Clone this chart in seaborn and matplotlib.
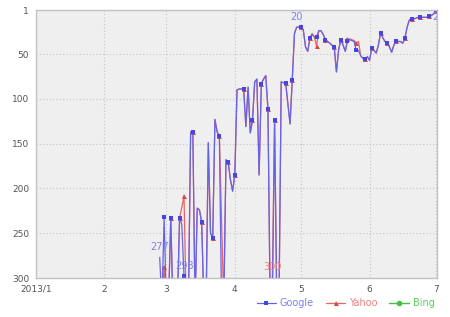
import numpy as np
import pandas as pd
import matplotlib
matplotlib.use("Agg")
import matplotlib.pyplot as plt
import seaborn as sns

# ---------------- data ----------------
OUT = 330  # not ranked (beyond 300) -> drawn off the bottom edge
DAYS = [56, 57, 58, 59, 60, 61, 62, 64, 65, 66, 67, 68, 69, 70, 71, 72, 73, 74, 75, 76,
        77, 78, 79, 80, 81, 82, 83, 84, 85, 86, 87, 88, 89, 90, 91, 92, 93, 94, 95, 96,
        97, 98, 99, 100, 101, 102, 103, 104, 105, 106, 107, 108, 109, 110, 111, 112, 113, 114, 115, 116,
        117, 118, 119, 120, 121, 122, 123, 124, 125, 126, 127, 128, 129, 130, 131, 132, 133, 134, 135, 136,
        137, 138, 139, 140, 141, 142, 143, 144, 145, 146, 147, 148, 149, 150, 151, 152, 153, 154, 155, 156,
        157, 158, 159, 160, 161, 162, 163, 164, 165, 166, 167, 168, 169, 170, 171, 172, 173, 174, 175, 176,
        177, 178, 179, 180, 181]
GOOGLE = [277, OUT, 232, OUT, OUT, 233, OUT, OUT, 233, 240, 298, OUT, OUT, 137, 137, OUT, 222, 224, 238, OUT,
          OUT, 149, 250, 255, 123, 137, 141, OUT, OUT, 168, 171, 190, 203, 185, 90, 89, 89, 89, 131, 87,
          138, 124, 81, 78, 185, 83, 78, 74, 111, OUT, OUT, 124, OUT, OUT, 81, 82, 82, 105, 128, 79,
          27, 20, 20, 20, 23, 42, 47, 32, 28, 31, 31, 24, 24, 28, 34, 36, 38, 40, 42, 70,
          45, 34, 40, 47, 36, 34, 35, 36, 46, 46, 52, 55, 56, 53, 57, 43, 46, 49, 40, 26,
          32, 36, 38, 42, 48, 40, 36, 36, 36, 38, 32, 20, 12, 11, 11, 10, 9, 9, 9, 9,
          9, 8, 7, 5, 2]
YAHOO = [OUT, OUT, 288, OUT, OUT, 233, OUT, OUT, 233, 221, 209, OUT, OUT, 137, 137, OUT, 222, 224, 238, OUT,
         OUT, 149, 250, 255, 123, 137, 141, 235, OUT, 168, 171, 190, 203, 185, 90, 89, 89, 89, 131, 87,
         138, 124, 81, 78, 185, 83, 78, 74, 111, OUT, 300, 124, OUT, OUT, 81, 82, 82, 105, 128, 79,
         27, 20, 20, 20, 23, 42, 47, 32, 27, 31, 41, 24, 24, 28, 34, 36, 38, 40, 42, 70,
         45, 34, 40, 47, 33, 33, 34, 35, 38, 36, 52, 55, 56, 53, 57, 43, 46, 49, 40, 26,
         32, 36, 38, 42, 48, 40, 36, 36, 36, 38, 32, 20, 12, 11, 11, 10, 9, 9, 9, 9,
         9, 8, 7, 5, 2]
MARK_DAYS = [58, 61, 65, 67, 71, 75, 80, 83, 87, 90, 94, 98, 102, 105, 108, 113, 116, 120, 124, 127,
             131, 135, 138, 141, 145, 149, 152, 156, 159, 163, 167, 170, 174, 178, 181]
MONTH_LABELS = ["2013/1", "2", "3", "4", "5", "6", "7"]
Y_TICKS = [1, 50, 100, 150, 200, 250, 300]
SERIES = ["Google", "Yahoo", "Bing"]

# ---------------- style ----------------
sns.set_theme(style="white")
plt.rcParams["font.family"] = ["DejaVu Sans"]

C_G, C_Y, C_B = "#6464e8", "#e86464", "#44c044"
C_GM, C_YM = "#4646dc", "#dc4646"
C_GT, C_YT, C_BT = "#8080ee", "#ee8080", "#5ccc5c"

fig = plt.figure(figsize=(4.5, 3.17), dpi=100)
ax = fig.add_axes([0.080, 0.123, 0.891, 0.845])
ax.set_facecolor("#efefef")

df = pd.DataFrame({"day": DAYS, "Google": GOOGLE, "Yahoo": YAHOO})
mark_idx = [DAYS.index(d) for d in MARK_DAYS]

sns.lineplot(data=df, x="day", y="Yahoo", ax=ax, color=C_Y, lw=0.9, marker="^",
             markersize=3.6, markeredgewidth=0, markerfacecolor=C_YM, markevery=mark_idx,
             sort=False, estimator=None, label="Yahoo")
sns.lineplot(data=df, x="day", y="Google", ax=ax, color=C_G, lw=0.9, marker="s",
             markersize=3.2, markeredgewidth=0, markerfacecolor=C_GM, markevery=mark_idx,
             sort=False, estimator=None, label="Google")
ax.plot([], [], color=C_B, lw=1.0, marker="o", markersize=3, label="Bing")

# value labels
def lab(day, series, color, dy=-4, va="bottom"):
    i = DAYS.index(day)
    v = df[series].iloc[i]
    ax.annotate(str(v), (day, v), xytext=(0, -dy if va == "bottom" else dy),
                textcoords="offset points", ha="center", va=va, fontsize=7,
                color=color, clip_on=True, annotation_clip=False)

lab(56, "Google", C_GT)
lab(67, "Google", C_GT)
lab(107, "Yahoo", C_YT)
lab(118, "Google", C_GT)
lab(181, "Google", C_GT, dy=-1, va="top")

# axes
month_pos = [(pd.Timestamp(2013, m, 1) - pd.Timestamp(2013, 1, 1)).days for m in range(1, 8)]
ax.set_xlim(0, 181.5)
ax.set_ylim(300, 1)
ax.set_xticks(month_pos)
ax.set_xticklabels(MONTH_LABELS)
ax.set_yticks(Y_TICKS)
ax.tick_params(axis="both", length=0, labelsize=6.5, labelcolor="#555555", pad=5)
ax.grid(True, color="#c4c4c4", linestyle=(0, (1, 2)), linewidth=0.8)
for s in ax.spines.values():
    s.set_visible(True)
    s.set_color("#c2c2c2")
    s.set_linewidth(1.0)
ax.set_xlabel("")
ax.set_ylabel("")

if ax.get_legend():
    ax.get_legend().remove()
h, l = ax.get_legend_handles_labels()
order = [l.index(s) for s in SERIES]
leg = fig.legend([h[i] for i in order], [l[i] for i in order], loc="lower right",
                 bbox_to_anchor=(0.985, 0.0), ncol=3, frameon=False, fontsize=7,
                 handlelength=2.0, columnspacing=1.2, handletextpad=0.4)
for t, c in zip(leg.get_texts(), [C_GT, C_YT, C_BT]):
    t.set_color(c)

fig.savefig("out.png", dpi=100, facecolor="white")
